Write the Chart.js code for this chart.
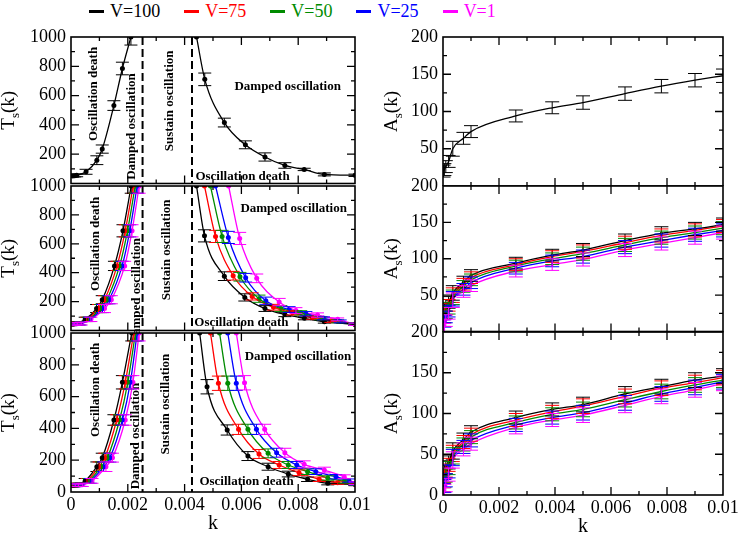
<!DOCTYPE html>
<html>
<head>
<meta charset="utf-8">
<script src="https://cdn.jsdelivr.net/npm/chart.js@4.4.1/dist/chart.umd.min.js"></script>
<style>
  body { margin: 0; background: #fff; }
  #wrap { position: relative; width: 740px; height: 536px; overflow: hidden; }
  canvas { position: absolute; }
  #legend { position: absolute; left: 89px; top: 1px; display: flex; gap: 24px; font-family: 'Liberation Serif', 'DejaVu Serif', serif; font-size: 18px; }
  #legend span.item { display: flex; align-items: center; gap: 6px; }
  #legend span.mark { display: inline-block; width: 15px; height: 3px; }
</style>
</head>
<body>
<div id="wrap">
  <div id="legend"></div>
  <canvas id="tl" width="385" height="166" style="left:0;top:20px"></canvas>
  <canvas id="ml" width="385" height="163" style="left:0;top:170px"></canvas>
  <canvas id="bl" width="385" height="219" style="left:0;top:317px"></canvas>
  <canvas id="tr" width="368" height="166" style="left:372px;top:20px"></canvas>
  <canvas id="mr" width="368" height="163" style="left:372px;top:170px"></canvas>
  <canvas id="br" width="368" height="219" style="left:372px;top:317px"></canvas>
</div>
<script>
const FONT = "'Liberation Serif', 'DejaVu Serif', serif"

// series names and colours
const vLabels = ['V=100', 'V=75', 'V=50', 'V=25', 'V=1']
const colors = ['#000000', '#ff0000', '#008b00', '#0000ff', '#ff00ff']

// tick values
const kMajor = [0, 0.002, 0.004, 0.006, 0.008, 0.01]
const kMinor = [0.001, 0.003, 0.005, 0.007, 0.009]
const tMajor = [0, 200, 400, 600, 800, 1000]
const tMinor = [100, 300, 500, 700, 900]
const aMajor = [0, 50, 100, 150, 200]
const aMinor = [25, 75, 125, 175]

// region borders (k)
const borders = [0.00252, 0.00426]

/* ---------- T_s(k), top panel : V=100 only ---------- */
const topLeftK = [0.00006, 0.00013, 0.0002, 0.00053, 0.00091, 0.0011, 0.00151, 0.00181, 0.00211]
const topLeftT = [52, 53, 56, 80, 159, 235, 532, 785, 1000]
const topLeftE = [8, 8, 10, 17, 30, 28, 33, 43, 55]
const topRightK = [0.00442, 0.00471, 0.0054, 0.00614, 0.00683, 0.00753, 0.00821, 0.00892, 0.01]
const topRightT = [1000, 711, 416, 264, 181, 123, 96, 62, 56]
const topRightE = [0, 43, 30, 27, 28, 19, 8, 10, 8]

/* ---------- T_s(k), middle panel ---------- */
const midLeftT = [45, 46, 48, 77, 152, 213, 447, 690, 1000]
const midLeftE = [8, 8, 10, 15, 28, 28, 32, 42, 50]
const midLeftK100 = [0.00003, 0.0001, 0.0002, 0.0005, 0.0009, 0.0011, 0.00153, 0.00183, 0.00212]
const midLeftK75 = [0.00005, 0.00013, 0.00024, 0.00055, 0.00097, 0.00118, 0.00162, 0.00191, 0.00219]
const midLeftK50 = [0.00007, 0.00016, 0.00028, 0.0006, 0.00104, 0.00126, 0.00171, 0.00199, 0.00226]
const midLeftK25 = [0.00009, 0.00019, 0.00032, 0.00065, 0.00111, 0.00134, 0.0018, 0.00207, 0.00233]
const midLeftK1 = [0.00011, 0.00022, 0.00036, 0.0007, 0.00118, 0.00142, 0.00189, 0.00215, 0.0024]

const midRightE = [0, 42, 30, 25, 20, 15, 10, 10, 8]
const midRightK100 = [0.00442, 0.0047, 0.0054, 0.00612, 0.00683, 0.00753, 0.00822, 0.00892, 0.01]
const midRightT100 = [1000, 655, 376, 229, 152, 111, 84, 61, 43]
const midRightK75 = [0.0047, 0.00509, 0.00571, 0.00638, 0.00713, 0.0078, 0.0085, 0.00915, 0.01]
const midRightT75 = [1000, 651, 379, 236, 161, 122, 88, 66, 43]
const midRightK50 = [0.00491, 0.00532, 0.00595, 0.00662, 0.00739, 0.00809, 0.0088, 0.00939, 0.01]
const midRightT50 = [1000, 651, 372, 220, 152, 122, 84, 63, 43]
const midRightK25 = [0.00509, 0.00554, 0.00615, 0.00686, 0.00768, 0.00827, 0.00889, 0.00948, 0.01]
const midRightT25 = [1000, 644, 365, 206, 145, 116, 84, 63, 43]
const midRightK1 = [0.00555, 0.00594, 0.00654, 0.00733, 0.00792, 0.00868, 0.00939, 0.01]
const midRightT1 = [1000, 637, 361, 197, 138, 107, 77, 43]
const midRightE1 = [0, 42, 30, 25, 20, 15, 10, 8]

/* ---------- T_s(k), bottom panel ---------- */
const botLeftT = [42, 43, 45, 70, 159, 216, 453, 690, 1000]
const botLeftE = [8, 8, 10, 15, 30, 28, 33, 42, 50]
const botLeftK100 = [0.00003, 0.0001, 0.0002, 0.0005, 0.00091, 0.0011, 0.00151, 0.00181, 0.00214]
const botLeftK75 = [0.00006, 0.00014, 0.00025, 0.00056, 0.00099, 0.00119, 0.00161, 0.00191, 0.00221]
const botLeftK50 = [0.00009, 0.00018, 0.0003, 0.00062, 0.00107, 0.00128, 0.00171, 0.002, 0.00227]
const botLeftK25 = [0.00012, 0.00022, 0.00035, 0.00068, 0.00115, 0.00137, 0.00181, 0.00209, 0.00233]
const botLeftK1 = [0.00015, 0.00026, 0.0004, 0.00074, 0.00123, 0.00146, 0.00191, 0.00218, 0.0024]

const botRightE = [0, 45, 32, 28, 22, 18, 14, 10, 8]
const botRightK100 = [0.00453, 0.00479, 0.0055, 0.00623, 0.00694, 0.00765, 0.00833, 0.00904, 0.01]
const botRightT100 = [1000, 662, 390, 226, 159, 113, 80, 55, 48]
const botRightK75 = [0.00491, 0.00519, 0.0059, 0.00662, 0.00733, 0.00803, 0.00874, 0.00939, 0.01]
const botRightT75 = [1000, 684, 394, 239, 170, 121, 80, 58, 48]
const botRightK50 = [0.00523, 0.00552, 0.00623, 0.00694, 0.00765, 0.00833, 0.00904, 0.00962, 0.01]
const botRightT50 = [1000, 684, 394, 243, 170, 128, 88, 66, 50]
const botRightK25 = [0.00552, 0.00582, 0.00653, 0.00724, 0.00795, 0.00862, 0.00933, 0.00978, 0.01]
const botRightT25 = [1000, 684, 394, 247, 170, 128, 96, 72, 52]
const botRightK1 = [0.00582, 0.00611, 0.00682, 0.00753, 0.00821, 0.00892, 0.00962, 0.01]
const botRightT1 = [1000, 687, 394, 247, 174, 138, 96, 55]
const botRightE1 = [0, 45, 32, 28, 22, 18, 12, 8]

/* ---------- A_s(k) ---------- */
const aK = [0.00002, 0.00005, 0.0001, 0.0002, 0.00035, 0.00073, 0.001, 0.0026, 0.0039, 0.005, 0.0065, 0.0078, 0.009, 0.01]
const aE = [8, 8, 8, 8, 10, 8, 8, 8, 8, 9, 9, 9, 9, 9]
const aTop100 = [20, 22, 26, 33, 50, 64, 73, 94, 105, 112, 124, 134, 142, 148]

const aMid100 = [25, 30, 36, 40, 53, 68, 77, 94, 105, 112, 125, 135, 141, 147]
const aMid75 = [20, 25, 31, 36, 50, 65, 74, 92, 103, 110, 122, 132, 139, 145]
const aMid50 = [15, 20, 26, 32, 47, 62, 71, 90, 100, 107, 119, 129, 136, 142]
const aMid25 = [8, 14, 20, 28, 45, 58, 67, 87, 97, 103, 116, 125, 133, 139]
const aMid1 = [3, 8, 15, 25, 43, 55, 63, 83, 92, 99, 112, 121, 129, 136]

const aBot100 = [22, 28, 34, 40, 54, 68, 77, 95, 105, 111, 124, 133, 141, 146]
const aBot75 = [17, 23, 30, 37, 51, 65, 74, 92, 102, 109, 121, 131, 138, 144]
const aBot50 = [12, 17, 24, 33, 48, 62, 71, 89, 99, 105, 117, 127, 135, 141]
const aBot25 = [6, 11, 18, 29, 46, 59, 67, 86, 95, 101, 113, 124, 132, 139]
const aBot1 = [1, 5, 12, 25, 43, 56, 63, 83, 92, 98, 110, 121, 129, 137]

// region notes, placed in data coordinates
const notesTop = [
  { text: 'Oscillation death', k: 0.00081, v: 611, rot: true },
  { text: 'Damped oscillation', k: 0.00212, v: 389, rot: true },
  { text: 'Sustain oscillation', k: 0.00346, v: 564, rot: true },
  { text: 'Damped oscillation', k: 0.00763, v: 658 },
  { text: 'Oscillation death', k: 0.00604, v: 47 }
]
const notesMid = [
  { text: 'Oscillation death', k: 0.00087, v: 599, rot: true },
  { text: 'Damped oscillation', k: 0.00232, v: 272, rot: true },
  { text: 'Sustain oscillation', k: 0.00338, v: 558, rot: true },
  { text: 'Damped oscillation', k: 0.00784, v: 844 },
  { text: 'Oscillation death', k: 0.006, v: 54 }
]
const notesBot = [
  { text: 'Oscillation death', k: 0.00088, v: 642, rot: true },
  { text: 'Damped oscillation', k: 0.00226, v: 352, rot: true },
  { text: 'Sustain oscillation', k: 0.00335, v: 553, rot: true },
  { text: 'Damped oscillation', k: 0.00799, v: 849 },
  { text: 'Oscillation death', k: 0.00618, v: 63 }
]

/*
  Legend
*/
const legend = document.getElementById('legend')
vLabels.forEach((label, i) => {
  const item = document.createElement('span')
  item.className = 'item'
  item.innerHTML = `<span class="mark" style="background:${colors[i]}"></span><span style="color:${colors[i]}">${label}</span>`
  legend.appendChild(item)
})

/*
  Helpers
*/
function series(ks, vs, errs, color, radius) {
  return {
    data: ks.map((k, i) => ({ x: k, y: vs[i] })),
    errors: errs,
    borderColor: color,
    backgroundColor: color,
    borderWidth: 1.3,
    pointRadius: radius,
    pointBorderWidth: 0,
    pointHoverRadius: 0,
    cubicInterpolationMode: 'monotone',
    fill: false
  }
}

function fmtK(v) {
  return v === 0 ? '0' : String(Number(v.toFixed(3)))
}

// frame, inner ticks, error bars, region borders, notes and y title
const panelPlugin = {
  id: 'panel',
  beforeDatasetsDraw(chart, args, o) {
    const { ctx, chartArea: a, scales: { x, y } } = chart
    ctx.save()
    ctx.beginPath()
    ctx.rect(a.left, a.top, a.right - a.left, a.bottom - a.top)
    ctx.clip()
    if (o.borders) {
      ctx.strokeStyle = '#000'
      ctx.lineWidth = 2
      ctx.setLineDash([8, 4])
      o.borders.forEach(k => {
        const px = x.getPixelForValue(k)
        ctx.beginPath()
        ctx.moveTo(px, a.top)
        ctx.lineTo(px, a.bottom)
        ctx.stroke()
      })
      ctx.setLineDash([])
    }
    ctx.restore()
    if (o.notes) {
      ctx.save()
      ctx.fillStyle = '#000'
      ctx.font = `bold 13px ${FONT}`
      ctx.textAlign = 'center'
      ctx.textBaseline = 'middle'
      o.notes.forEach(n => {
        const px = x.getPixelForValue(n.k)
        const py = y.getPixelForValue(n.v)
        ctx.save()
        ctx.translate(px, py)
        if (n.rot) ctx.rotate(-Math.PI / 2)
        ctx.fillText(n.text, 0, 0)
        ctx.restore()
      })
      ctx.restore()
    }
  },
  afterDatasetsDraw(chart, args, o) {
    const { ctx, chartArea: a, scales: { x, y } } = chart
    ctx.save()
    ctx.beginPath()
    ctx.rect(a.left, a.top, a.right - a.left, a.bottom - a.top)
    ctx.clip()
    ctx.lineWidth = 1
    chart.data.datasets.forEach(ds => {
      ctx.strokeStyle = ds.borderColor
      ds.data.forEach((p, i) => {
        const e = ds.errors ? ds.errors[i] : 0
        if (!e) return
        const px = x.getPixelForValue(p.x)
        const y1 = y.getPixelForValue(p.y + e)
        const y2 = y.getPixelForValue(p.y - e)
        const c = o.cap
        ctx.beginPath()
        ctx.moveTo(px, y1); ctx.lineTo(px, y2)
        ctx.moveTo(px - c, y1); ctx.lineTo(px + c, y1)
        ctx.moveTo(px - c, y2); ctx.lineTo(px + c, y2)
        ctx.stroke()
      })
    })
    ctx.restore()
  },
  afterDraw(chart, args, o) {
    const { ctx, chartArea: a, scales: { x, y } } = chart
    ctx.save()
    ctx.strokeStyle = '#000'
    ctx.lineWidth = 1.3
    const tick = (vals, len) => {
      vals.forEach(v => {
        if (v <= x.min || v >= x.max) return
        const px = x.getPixelForValue(v)
        ctx.beginPath()
        ctx.moveTo(px, a.bottom); ctx.lineTo(px, a.bottom - len)
        ctx.moveTo(px, a.top); ctx.lineTo(px, a.top + len)
        ctx.stroke()
      })
    }
    const ytick = (vals, len) => {
      vals.forEach(v => {
        if (v <= y.min || v >= y.max) return
        const py = y.getPixelForValue(v)
        ctx.beginPath()
        ctx.moveTo(a.left, py); ctx.lineTo(a.left + len, py)
        ctx.moveTo(a.right, py); ctx.lineTo(a.right - len, py)
        ctx.stroke()
      })
    }
    tick(kMajor, 8); tick(kMinor, 4)
    ytick(o.yMajor, 8); ytick(o.yMinor, 4)
    ctx.lineWidth = 1.6
    ctx.strokeRect(a.left, a.top, a.right - a.left, a.bottom - a.top)

    // y title with subscript
    const cy = (a.top + a.bottom) / 2
    ctx.fillStyle = '#000'
    ctx.textBaseline = 'alphabetic'
    ctx.textAlign = 'left'
    const big = `19px ${FONT}`, small = `13px ${FONT}`
    ctx.font = big
    const w1 = ctx.measureText(o.yTitle).width
    const w3 = ctx.measureText('(k)').width
    ctx.font = small
    const w2 = ctx.measureText('s').width
    const total = w1 + w2 + w3
    ctx.translate(o.titleX, cy)
    ctx.rotate(-Math.PI / 2)
    let cx = -total / 2
    ctx.font = big
    ctx.fillText(o.yTitle, cx, 0); cx += w1
    ctx.font = small
    ctx.fillText('s', cx, 5); cx += w2
    ctx.font = big
    ctx.fillText('(k)', cx, 0)
    ctx.restore()
  }
}

function panel(id, datasets, cfg) {
  return new Chart(document.getElementById(id), {
    type: 'line',
    data: { datasets },
    options: {
      animation: false,
      responsive: false,
      maintainAspectRatio: false,
      events: [],
      layout: { padding: cfg.padding },
      plugins: {
        legend: { display: false },
        tooltip: { enabled: false },
        panel: cfg
      },
      scales: {
        x: {
          type: 'linear',
          min: 0,
          max: 0.01,
          display: cfg.showX,
          grid: { display: false, drawTicks: false },
          border: { display: false },
          afterBuildTicks: s => { s.ticks = kMajor.map(v => ({ value: v })) },
          afterFit: s => { s.height = cfg.xHeight || 0; s.paddingLeft = 0; s.paddingRight = 0 },
          ticks: { font: { family: FONT, size: 18 }, color: '#000', padding: 2, maxRotation: 0, autoSkip: false, callback: v => fmtK(v) },
          title: { display: true, text: 'k', color: '#000', font: { family: FONT, size: 20 }, padding: { top: 0, bottom: cfg.kPad } }
        },
        y: {
          type: 'linear',
          min: 0,
          max: cfg.yMax,
          grid: { display: false, drawTicks: false },
          border: { display: false },
          afterBuildTicks: s => { s.ticks = cfg.yLabels.map(v => ({ value: v })) },
          afterFit: s => { s.width = 71; s.paddingTop = 0; s.paddingBottom = 0 },
          ticks: { font: { family: FONT, size: 18 }, color: '#000', padding: 5, autoSkip: false, callback: v => String(v) }
        }
      }
    },
    plugins: [panelPlugin]
  })
}

const leftCommon = { yMax: 1000, yMajor: tMajor, yMinor: tMinor, yTitle: 'T', titleX: 14, borders, cap: 6.5, kPad: 0 }
const rightCommon = { yMax: 200, yMajor: aMajor, yMinor: aMinor, yTitle: 'A', titleX: 25, cap: 7, kPad: 0 }

/*
  T_s(k) panels
*/
panel('tl', [
  series(topLeftK, topLeftT, topLeftE, colors[0], 2.5),
  series(topRightK, topRightT, topRightE, colors[0], 2.5)
], { ...leftCommon, notes: notesTop, yLabels: tMajor.slice(1), padding: { top: 17, right: 30, bottom: 0, left: 0 }, showX: false })

panel('ml', [
  series(midLeftK100, midLeftT, midLeftE, colors[0], 2.5),
  series(midRightK100, midRightT100, midRightE, colors[0], 2.5),
  series(midLeftK75, midLeftT, midLeftE, colors[1], 2.5),
  series(midRightK75, midRightT75, midRightE, colors[1], 2.5),
  series(midLeftK50, midLeftT, midLeftE, colors[2], 2.5),
  series(midRightK50, midRightT50, midRightE, colors[2], 2.5),
  series(midLeftK25, midLeftT, midLeftE, colors[3], 2.5),
  series(midRightK25, midRightT25, midRightE, colors[3], 2.5),
  series(midLeftK1, midLeftT, midLeftE, colors[4], 2.5),
  series(midRightK1, midRightT1, midRightE1, colors[4], 2.5)
], { ...leftCommon, notes: notesMid, yLabels: tMajor.slice(1), padding: { top: 16, right: 30, bottom: 0, left: 0 }, showX: false })

panel('bl', [
  series(botLeftK100, botLeftT, botLeftE, colors[0], 2.5),
  series(botRightK100, botRightT100, botRightE, colors[0], 2.5),
  series(botLeftK75, botLeftT, botLeftE, colors[1], 2.5),
  series(botRightK75, botRightT75, botRightE, colors[1], 2.5),
  series(botLeftK50, botLeftT, botLeftE, colors[2], 2.5),
  series(botRightK50, botRightT50, botRightE, colors[2], 2.5),
  series(botLeftK25, botLeftT, botLeftE, colors[3], 2.5),
  series(botRightK25, botRightT25, botRightE, colors[3], 2.5),
  series(botLeftK1, botLeftT, botLeftE, colors[4], 2.5),
  series(botRightK1, botRightT1, botRightE1, colors[4], 2.5)
], { ...leftCommon, notes: notesBot, yLabels: tMajor, padding: { top: 16, right: 30, bottom: 0, left: 0 }, showX: true, xHeight: 44 })

/*
  A_s(k) panels
*/
panel('tr', [
  series(aK, aTop100, aE, colors[0], 0)
], { ...rightCommon, yLabels: aMajor.slice(1), padding: { top: 17, right: 17, bottom: 0, left: 0 }, showX: false })

panel('mr', [
  series(aK, aMid100, aE, colors[0], 1.5),
  series(aK, aMid75, aE, colors[1], 1.5),
  series(aK, aMid50, aE, colors[2], 1.5),
  series(aK, aMid25, aE, colors[3], 1.5),
  series(aK, aMid1, aE, colors[4], 1.5)
], { ...rightCommon, yLabels: aMajor.slice(1), padding: { top: 16, right: 17, bottom: 0, left: 0 }, showX: false })

panel('br', [
  series(aK, aBot100, aE, colors[0], 1.5),
  series(aK, aBot75, aE, colors[1], 1.5),
  series(aK, aBot50, aE, colors[2], 1.5),
  series(aK, aBot25, aE, colors[3], 1.5),
  series(aK, aBot1, aE, colors[4], 1.5)
], { ...rightCommon, yLabels: aMajor, padding: { top: 15, right: 17, bottom: 0, left: 0 }, showX: true, xHeight: 41, kPad: -3 })
</script>
</body>
</html>
